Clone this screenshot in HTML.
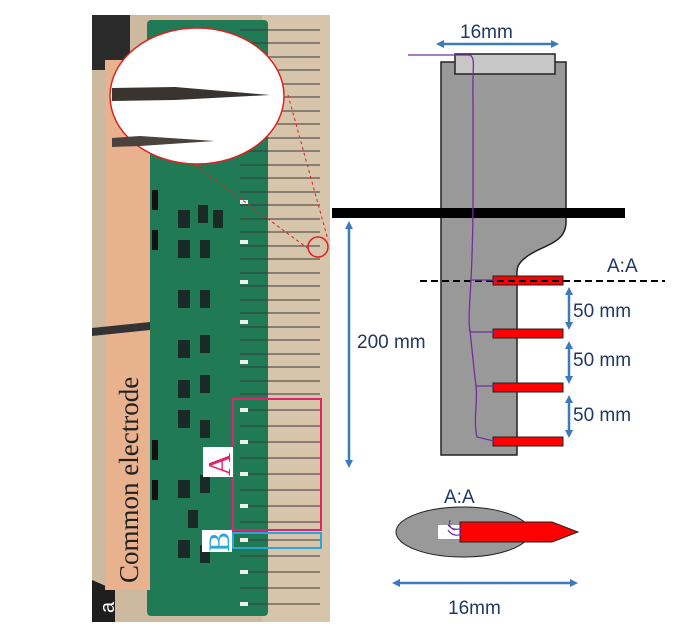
<!DOCTYPE html>
<html><head><style>
html,body{margin:0;padding:0;background:#fff;}
svg{display:block;}
.s{font-family:"Liberation Sans",sans-serif;}
.r{font-family:"Liberation Serif",serif;}
</style></head><body>
<svg width="700" height="642" viewBox="0 0 700 642" xmlns="http://www.w3.org/2000/svg">
<defs>
<marker id="ar" markerWidth="8" markerHeight="8" refX="4" refY="4" orient="auto-start-reverse" markerUnits="userSpaceOnUse"><path d="M0,0 L8,4 L0,8 z" fill="#3d79bd"/></marker>
</defs>
<rect x="92" y="15" width="238" height="607" fill="#cdb9a0"/>
<rect x="262" y="15" width="68" height="607" fill="#d6c4ab"/>
<path d="M92 15 L130 15 L130 60 L105 70 L92 70Z" fill="#2a2a2a"/>
<path d="M92 580 L115 590 L115 622 L92 622Z" fill="#1e1e1e"/>
<rect x="147" y="20" width="121" height="596" rx="4" fill="#1f7a55"/>
<g fill="#1a2a26">
<rect x="178" y="210" width="12" height="18"/><rect x="198" y="205" width="10" height="18"/><rect x="213" y="210" width="10" height="18"/>
<rect x="178" y="240" width="12" height="18"/><rect x="200" y="240" width="10" height="18"/>
<rect x="178" y="290" width="12" height="18"/><rect x="200" y="290" width="10" height="18"/>
<rect x="178" y="340" width="12" height="18"/><rect x="200" y="335" width="10" height="18"/>
<rect x="178" y="380" width="12" height="18"/><rect x="200" y="375" width="10" height="18"/>
<rect x="178" y="410" width="12" height="18"/><rect x="200" y="420" width="10" height="18"/>
<rect x="178" y="480" width="12" height="18"/><rect x="200" y="475" width="10" height="18"/>
<rect x="188" y="510" width="10" height="18"/>
<rect x="178" y="540" width="12" height="18"/><rect x="200" y="545" width="10" height="18"/>
</g>
<g fill="#111"><rect x="152" y="190" width="6" height="20"/><rect x="152" y="230" width="6" height="20"/><rect x="152" y="440" width="6" height="20"/><rect x="152" y="480" width="6" height="20"/></g>
<g stroke="#3a3a3a" stroke-width="1">
<line x1="240" y1="30" x2="320" y2="30"/><line x1="240" y1="43" x2="320" y2="43"/><line x1="240" y1="57" x2="320" y2="57"/><line x1="240" y1="70" x2="320" y2="70"/><line x1="240" y1="84" x2="320" y2="84"/><line x1="240" y1="97" x2="320" y2="97"/><line x1="240" y1="111" x2="320" y2="111"/><line x1="240" y1="124" x2="320" y2="124"/><line x1="240" y1="138" x2="320" y2="138"/><line x1="240" y1="151" x2="320" y2="151"/><line x1="240" y1="165" x2="320" y2="165"/><line x1="240" y1="178" x2="320" y2="178"/><line x1="240" y1="192" x2="320" y2="192"/><line x1="240" y1="205" x2="320" y2="205"/><line x1="240" y1="219" x2="320" y2="219"/><line x1="240" y1="232" x2="320" y2="232"/><line x1="240" y1="246" x2="320" y2="246"/><line x1="240" y1="259" x2="320" y2="259"/><line x1="240" y1="273" x2="320" y2="273"/><line x1="240" y1="286" x2="320" y2="286"/><line x1="240" y1="300" x2="320" y2="300"/><line x1="240" y1="313" x2="320" y2="313"/><line x1="240" y1="327" x2="320" y2="327"/><line x1="240" y1="340" x2="320" y2="340"/><line x1="240" y1="354" x2="320" y2="354"/><line x1="240" y1="367" x2="320" y2="367"/><line x1="240" y1="381" x2="320" y2="381"/><line x1="240" y1="394" x2="320" y2="394"/><line x1="240" y1="410" x2="320" y2="410"/><line x1="240" y1="426" x2="320" y2="426"/><line x1="240" y1="442" x2="320" y2="442"/><line x1="240" y1="458" x2="320" y2="458"/><line x1="240" y1="474" x2="320" y2="474"/><line x1="240" y1="490" x2="320" y2="490"/><line x1="240" y1="506" x2="320" y2="506"/><line x1="240" y1="522" x2="320" y2="522"/><line x1="240" y1="540" x2="320" y2="540"/><line x1="240" y1="556" x2="320" y2="556"/><line x1="240" y1="572" x2="320" y2="572"/><line x1="240" y1="588" x2="320" y2="588"/><line x1="240" y1="604" x2="320" y2="604"/>
</g>
<g fill="#eee"><rect x="240" y="200" width="8" height="4"/><rect x="240" y="240" width="8" height="4"/><rect x="240" y="280" width="8" height="4"/><rect x="240" y="320" width="8" height="4"/><rect x="240" y="360" width="8" height="4"/><rect x="240" y="408" width="8" height="4"/><rect x="240" y="440" width="8" height="4"/><rect x="240" y="472" width="8" height="4"/><rect x="240" y="504" width="8" height="4"/><rect x="240" y="538" width="8" height="4"/><rect x="240" y="570" width="8" height="4"/><rect x="240" y="602" width="8" height="4"/></g>
<rect x="105" y="60" width="45" height="530" fill="#e8b28e"/>
<text class="r" transform="translate(138,583) rotate(-90)" font-size="27" fill="#222">Common electrode</text>
<path d="M92 328 L150 322 L150 330 L92 336Z" fill="#333"/>
<ellipse cx="197" cy="96" rx="87" ry="68" fill="#fff" stroke="#d22" stroke-width="1.5"/>
<path d="M112 88 L175 87 L270 95 L175 100 L112 101Z" fill="#3a3430"/>
<path d="M112 138 L140 136 L215 141 L140 146 L112 147Z" fill="#4a423c"/>
<circle cx="318" cy="247" r="10" fill="none" stroke="#d22" stroke-width="1.5"/>
<line x1="288" y1="95" x2="328" y2="240" stroke="#d22" stroke-dasharray="3,3"/>
<line x1="195" y1="165" x2="310" y2="250" stroke="#d22" stroke-dasharray="3,3"/>
<rect x="233" y="399" width="88" height="131" fill="none" stroke="#e0246c" stroke-width="2"/>
<rect x="233" y="533" width="88" height="15" fill="none" stroke="#29a6db" stroke-width="2"/>
<rect x="203" y="447" width="30" height="30" fill="#fff"/>
<text class="r" transform="translate(230,476) rotate(-90)" font-size="32" fill="#e0246c">A</text>
<rect x="202" y="530" width="30" height="22" fill="#fff"/>
<text class="r" transform="translate(229,552) rotate(-90)" font-size="30" fill="#29a6db">B</text>
<text class="s" transform="translate(114,613) rotate(-90)" font-size="20" fill="#fff">a</text>
<path d="M441 62 L566 62 L566 222 C566 245 540 245 525 258 C515 266 517 270 517 285 L517 455 L441 455Z" fill="#999" stroke="#222" stroke-width="1.5"/>
<rect x="455" y="54" width="100" height="20" fill="#c8c8c8" stroke="#222" stroke-width="1.5"/>
<rect x="332" y="208" width="293" height="10" fill="#000"/>
<g fill="#f00" stroke="#222" stroke-width="1"><rect x="493" y="276" width="70" height="9"/><rect x="493" y="329" width="70" height="9"/><rect x="493" y="383" width="70" height="9"/><rect x="493" y="437" width="70" height="9"/></g>
<line x1="420" y1="281" x2="665" y2="281" stroke="#000" stroke-width="2" stroke-dasharray="7,4"/>
<path d="M408 55 L470 55 C476 58 472 70 473 100 L473 200 C473 230 472 260 471 280 L497 280 M471 280 C470 300 468 320 470 332 L498 332 M470 330 C472 350 474 370 476 386 L498 386 M476 386 C478 400 473 420 477 437 L498 442" fill="none" stroke="#7030a0" stroke-width="1.3"/>
<g stroke="#3d79bd" stroke-width="2.5">
<line x1="440" y1="44" x2="555" y2="44" marker-start="url(#ar)" marker-end="url(#ar)"/>
<line x1="349" y1="225" x2="349" y2="464" marker-start="url(#ar)" marker-end="url(#ar)"/>
<line x1="569" y1="291" x2="569" y2="326" marker-start="url(#ar)" marker-end="url(#ar)"/>
<line x1="569" y1="345" x2="569" y2="380" marker-start="url(#ar)" marker-end="url(#ar)"/>
<line x1="569" y1="399" x2="569" y2="434" marker-start="url(#ar)" marker-end="url(#ar)"/>
<line x1="396" y1="583" x2="574" y2="583" marker-start="url(#ar)" marker-end="url(#ar)"/>
</g>
<g class="s" fill="#1f3864" font-size="19">
<text x="460" y="38">16mm</text>
<text x="357" y="348">200 mm</text>
<text x="573" y="317">50 mm</text>
<text x="573" y="366">50 mm</text>
<text x="573" y="421">50 mm</text>
<text x="607" y="272">A:A</text>
<text x="444" y="503">A:A</text>
<text x="448" y="614">16mm</text>
</g>
<ellipse cx="463" cy="532" rx="67" ry="25" fill="#999" stroke="#222" stroke-width="1"/>
<rect x="438" y="525" width="22" height="14" fill="#fff"/>
<path d="M460 522 L552 522 L578 532 L552 542 L460 542Z" fill="#f00" stroke="#222" stroke-width="1"/>
<path d="M448 525 C452 530 458 530 462 528 M448 530 C452 536 458 536 462 534 M450 520 C448 527 452 529 455 530" fill="none" stroke="#7030a0" stroke-width="1.2"/>
</svg>
</body></html>
